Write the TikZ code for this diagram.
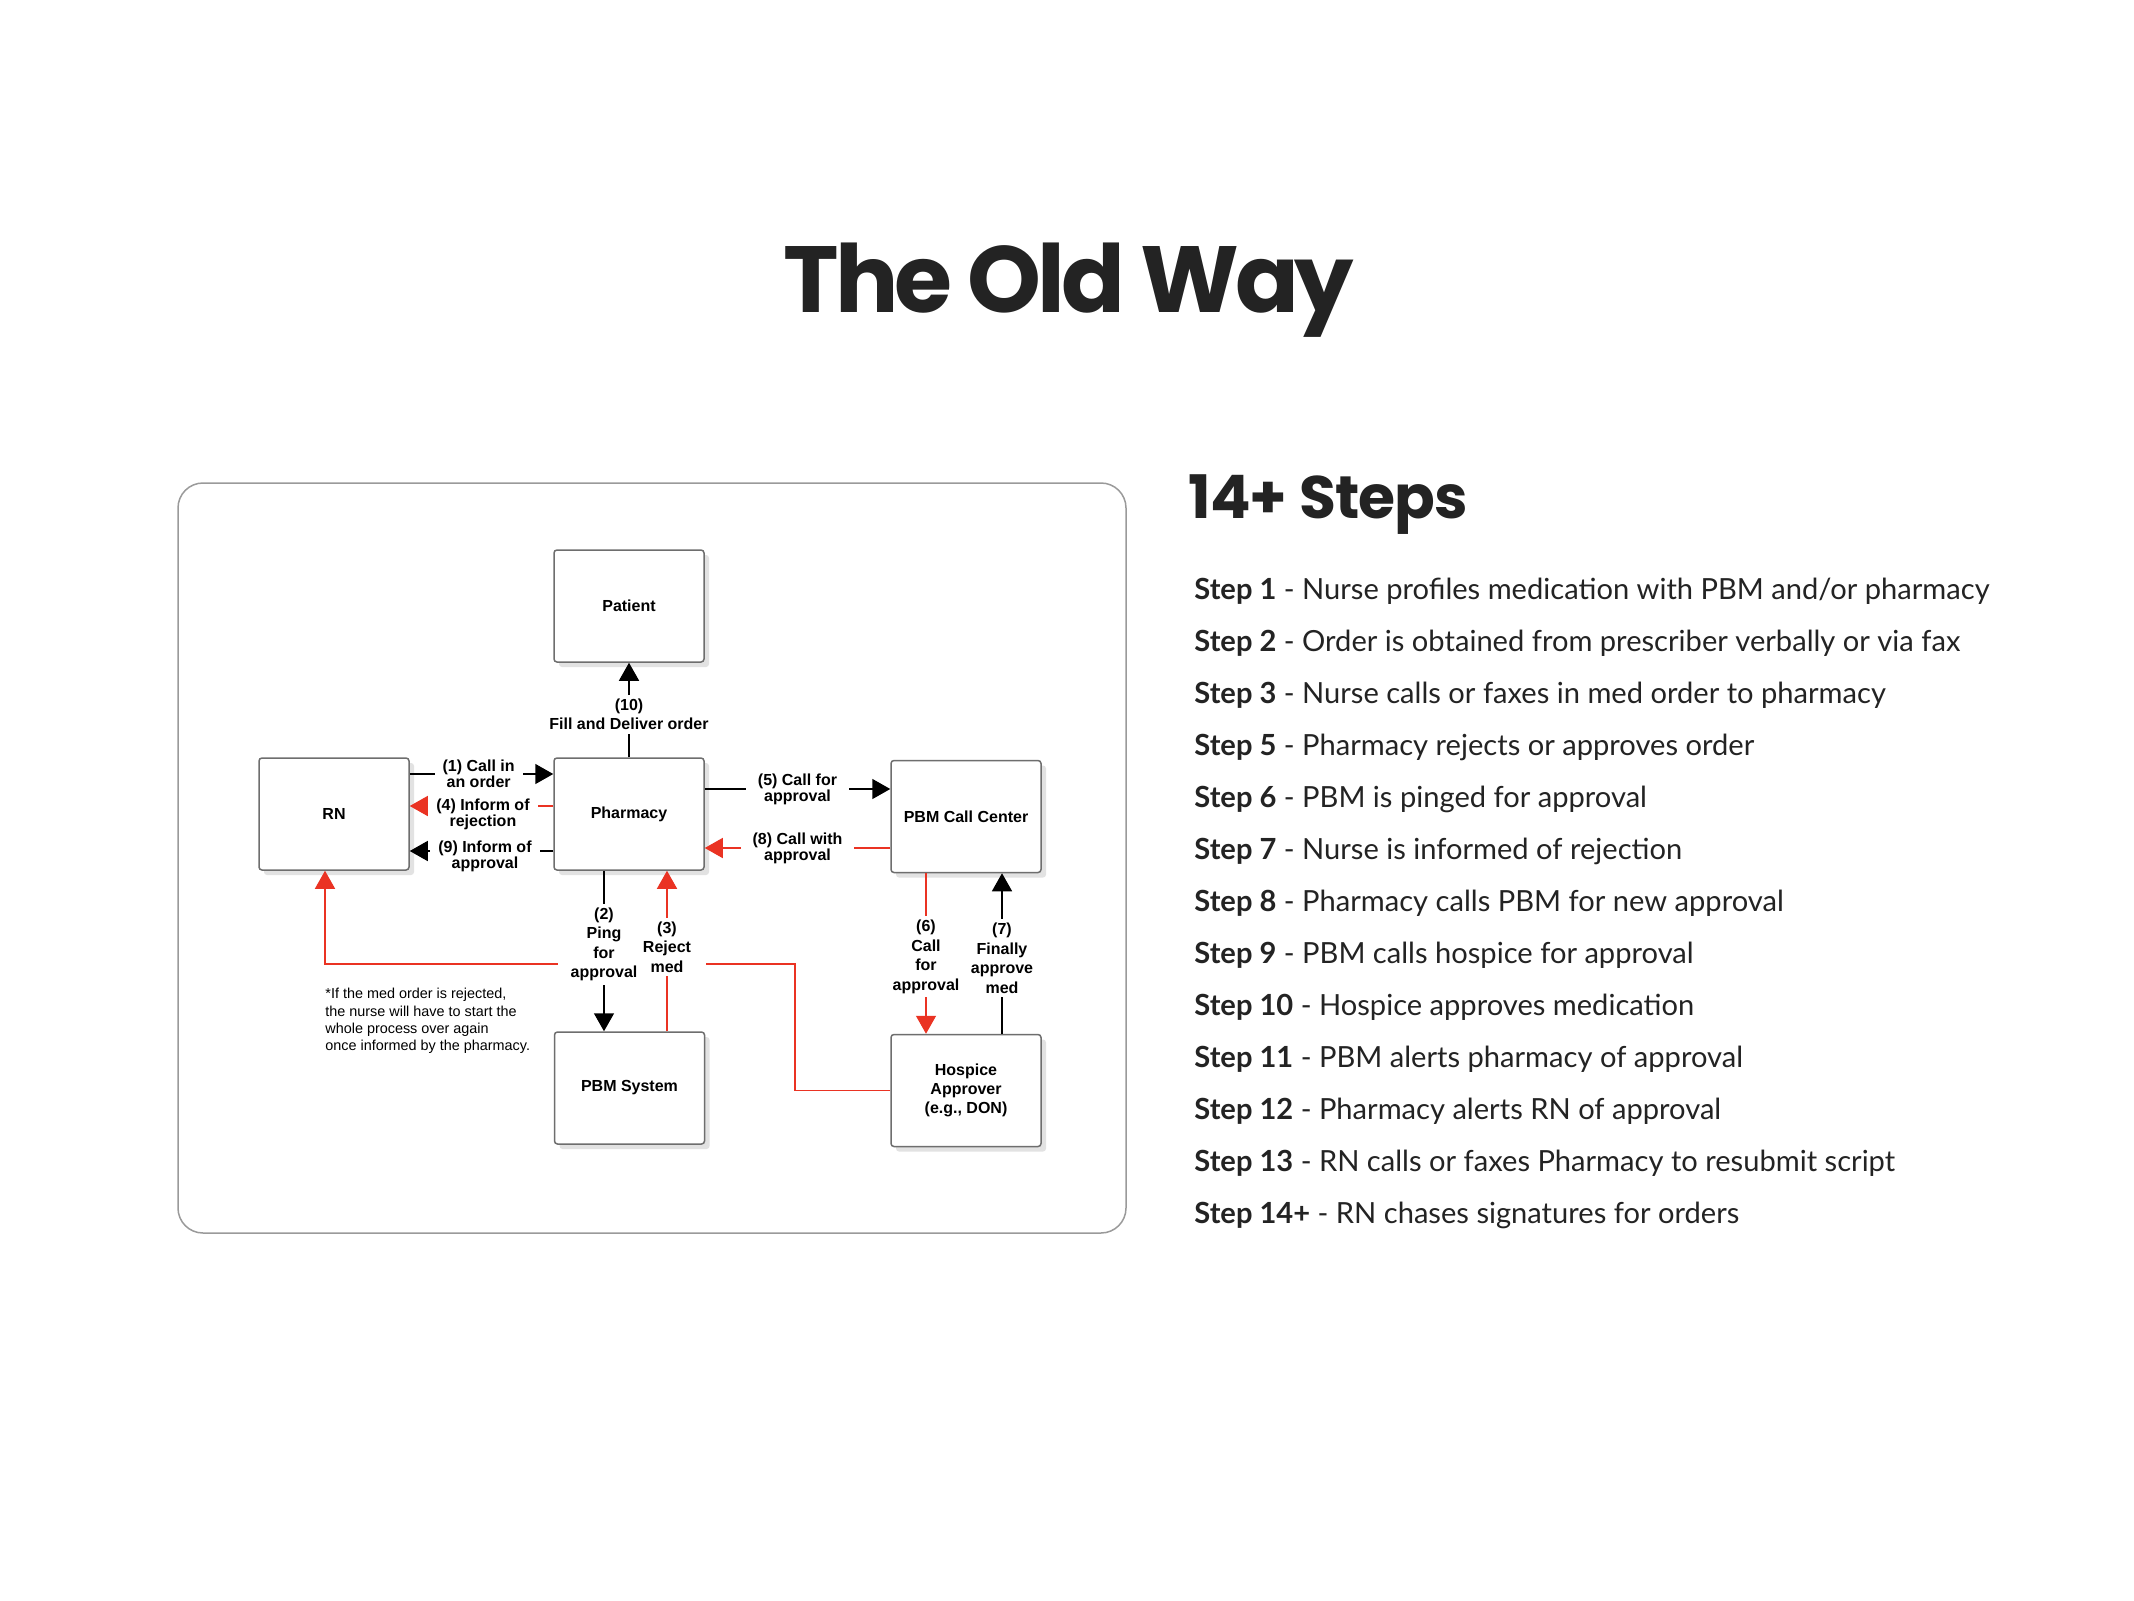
\documentclass[tikz,border=0pt]{standalone}
\usepackage{fontspec}
\setmainfont{Liberation Sans}
\newfontfamily\poppins{Poppins}
\newfontfamily\poppinstitle{Poppins}[LetterSpace=-4.5]
\newfontfamily\poppinshead{Poppins}[LetterSpace=-1.5]
\newfontfamily\lato{Lato}
\usetikzlibrary{arrows.meta,shadows,calc}
\definecolor{ink}{HTML}{232323}
\definecolor{boxgray}{HTML}{6E6E6E}
\definecolor{shadowgray}{HTML}{E2E2E2}
\definecolor{framegray}{HTML}{9A9A9A}
\definecolor{arrred}{HTML}{EA3323}
\tikzset{
  box/.style={draw=boxgray, line width=0.75pt, fill=white, rounded corners=1.5pt,
    minimum width=75pt, minimum height=56pt, inner sep=2pt, align=center,
    font=\fontsize{8pt}{9.6pt}\selectfont\bfseries,
    drop shadow={shadow xshift=2.5pt, shadow yshift=-2.5pt, fill=shadowgray, opacity=1}},
  hlbl/.style={fill=white, align=center, inner xsep=4pt, inner ysep=1pt,
    font=\fontsize{8pt}{7.9pt}\selectfont\bfseries},
  vlbl/.style={fill=white, align=center, inner xsep=3pt, inner ysep=2pt,
    font=\fontsize{8pt}{9.75pt}\selectfont\bfseries},
  blk/.style={draw=black, line width=0.75pt},
  red/.style={draw=arrred, line width=0.7pt},
  tip/.style={-{Triangle[length=9pt,width=10pt]}},
  stepline/.style={anchor=base west, inner sep=0pt, text=ink,
    font=\lato\fontsize{14.55pt}{18pt}\selectfont},
}
\begin{document}
\begin{tikzpicture}[x=0.5pt,y=-0.5pt]
\useasboundingbox (0,0) rectangle (2134,1600);
\fill[white] (0,0) rectangle (2134,1600);

% title
\node[anchor=base, inner sep=0pt, text=ink, font=\poppinstitle\bfseries\fontsize{47pt}{56pt}\selectfont] (title) at (1069,312) {The Old Way};

% frame
\draw[framegray, line width=0.75pt, rounded corners=12.5pt] (178,483) rectangle (1126,1233);

% boxes
\node[box] (patient) at (629,606) {Patient};
\node[box] (rn) at (334,814) {RN};
\node[box] (pharm) at (629,814) {Pharmacy};
\node[box] (pbmcc) at (966,816.5) {PBM Call Center};
\node[box] (pbmsys) at (629.5,1088) {PBM System};
\node[box] (hospice) at (966,1090.5) {Hospice\\Approver\\(e.g., DON)};

% (1)
\draw[blk, tip] (rn.east |- 0,774) -- node[hlbl, pos=0.48] (l1) {(1) Call in\\an order} (pharm.west |- 0,774);
% (4)
\draw[red, tip] (pharm.west |- 0,806) -- node[hlbl, pos=0.49, yshift=-4pt] (l4) {(4) Inform of\\rejection} (rn.east |- 0,806);
% (9)
\draw[blk, tip] (pharm.west |- 0,851) -- node[hlbl, pos=0.476, yshift=-2.5pt] (l9) {(9) Inform of\\approval} (rn.east |- 0,851);
% (10)
\draw[blk, tip] (pharm.north) -- node[hlbl, pos=0.45, inner ysep=2pt, font=\fontsize{8pt}{9.5pt}\selectfont\bfseries] (l10) {(10)\\Fill and Deliver order} (patient.south);
% (5)
\draw[blk, tip] (pharm.east |- 0,789) -- node[hlbl, inner xsep=6pt] (l5) {(5) Call for\\approval} (pbmcc.west |- 0,789);
% (8)
\draw[red, tip] (pbmcc.west |- 0,848) -- node[hlbl, inner xsep=6pt] (l8) {(8) Call with\\approval} (pharm.east |- 0,848);
% (2)
\draw[blk, tip] (604,0 |- pharm.south) -- node[vlbl, pos=0.46] (l2) {(2)\\Ping\\for\\approval} (604,0 |- pbmsys.north);
% (3)
\draw[red, tip] (667,0 |- pbmsys.north) -- node[vlbl, pos=0.525] (l3) {(3)\\Reject\\med} (667,0 |- pharm.south);
% (6)
\draw[red, tip] (926,0 |- pbmcc.south) -- node[vlbl, pos=0.52] (l6) {(6)\\Call\\for\\approval} (926,0 |- hospice.north);
% (7)
\draw[blk, tip] (1002,0 |- hospice.north) -- node[vlbl, pos=0.47] (l7) {(7)\\Finally\\approve\\med} (1002,0 |- pbmcc.south);

% long red return path (broken behind labels 2 and 3)
\coordinate (bend1) at (795,964);
\coordinate (rnIn) at ($(rn.south)+(-9,0)$);
\draw[red] (hospice.west) -| (bend1) -- ([xshift=4pt]l3.east |- bend1);
\draw[red, tip] ([xshift=-3pt]l2.west |- bend1) -| (rnIn);

% note
\node[anchor=north west, inner sep=0pt, align=left, font=\fontsize{7.2pt}{8.65pt}\selectfont] (note) at (325,988)
  {*If the med order is rejected,\\the nurse will have to start the\\whole process over again\\once informed by the pharmacy.};

% steps
\node[anchor=base west, inner sep=0pt, text=ink, font=\poppinshead\bfseries\fontsize{30pt}{36pt}\selectfont] (stepsh) at (1188,518) {14+ Steps};
\node[stepline] (s1) at (1194,599) {\textbf{Step 1} - Nurse profiles medication with PBM and/or pharmacy};
\node[stepline] (s2) at (1194,651) {\textbf{Step 2} - Order is obtained from prescriber verbally or via fax};
\node[stepline] (s3) at (1194,703) {\textbf{Step 3} - Nurse calls or faxes in med order to pharmacy};
\node[stepline] (s5) at (1194,755) {\textbf{Step 5} - Pharmacy rejects or approves order};
\node[stepline] (s6) at (1194,807) {\textbf{Step 6} - PBM is pinged for approval};
\node[stepline] (s7) at (1194,859) {\textbf{Step 7} - Nurse is informed of rejection};
\node[stepline] (s8) at (1194,911) {\textbf{Step 8} - Pharmacy calls PBM for new approval};
\node[stepline] (s9) at (1194,963) {\textbf{Step 9} - PBM calls hospice for approval};
\node[stepline] (s10) at (1194,1015) {\textbf{Step 10} - Hospice approves medication};
\node[stepline] (s11) at (1194,1067) {\textbf{Step 11} - PBM alerts pharmacy of approval};
\node[stepline] (s12) at (1194,1119) {\textbf{Step 12} - Pharmacy alerts RN of approval};
\node[stepline] (s13) at (1194,1171) {\textbf{Step 13} - RN calls or faxes Pharmacy to resubmit script};
\node[stepline] (s14) at (1194,1223) {\textbf{Step 14+} - RN chases signatures for orders};
\end{tikzpicture}
\end{document}
